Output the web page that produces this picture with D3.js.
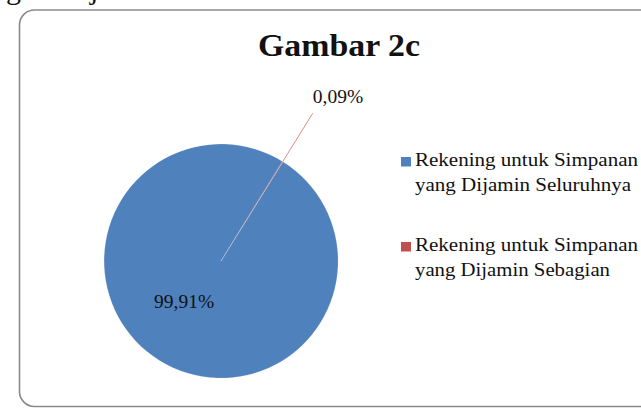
<!DOCTYPE html>
<html>
<head>
<meta charset="utf-8">
<script src="https://cdn.jsdelivr.net/npm/d3@7"></script>
<style>
  html, body { margin: 0; padding: 0; background: #fff; }
  svg { display: block; }
  text { font-family: "Liberation Serif", "DejaVu Serif", serif; fill: #111; }
</style>
</head>
<body>
<svg id="chart" width="641" height="408"></svg>
<script>
const title = "Gambar 2c";
const categories = [
  ["Rekening untuk Simpanan", "yang Dijamin Seluruhnya"],
  ["Rekening untuk Simpanan", "yang Dijamin Sebagian"]
];
const values = [99.91, 0.09];
const valueLabels = ["99,91%", "0,09%"];
const colors = ["#4F81BD", "#C0504D"];

const svg = d3.select("#chart");

// descenders of a text line above (cropped, as in the reference)
svg.append("text").attr("x", 6).attr("y", -1).attr("font-size", 30).text("g");
svg.append("text").attr("x", 90).attr("y", -1).attr("font-size", 30).text("j");

// chart frame
svg.append("rect")
  .attr("x", 19.5).attr("y", 10).attr("width", 640).attr("height", 396.5)
  .attr("rx", 15).attr("ry", 15)
  .attr("fill", "#fff").attr("stroke", "#8a8a8a").attr("stroke-width", 1.6);

// title
svg.append("text")
  .attr("x", 258).attr("y", 56)
  .attr("font-size", 32).attr("font-weight", "bold")
  .attr("textLength", 162).attr("lengthAdjust", "spacingAndGlyphs")
  .text(title);

// pie
const cx = 221, cy = 261, r = 117;
const start = 32 * Math.PI / 180;
const pie = d3.pie().sort(null).startAngle(start).endAngle(start + 2 * Math.PI);
const arcs = pie(values);
const arc = d3.arc().innerRadius(0).outerRadius(r);
const g = svg.append("g").attr("transform", `translate(${cx},${cy})`);
g.selectAll("path").data(arcs).join("path")
  .attr("d", arc)
  .attr("fill", (d, i) => colors[i])
  .attr("stroke", "#fff").attr("stroke-width", 0.5).attr("stroke-opacity", 0.3);

// leader line for small slice
const small = arcs[1];
const mid = (small.startAngle + small.endAngle) / 2;
const r2 = 174;
g.append("line")
  .attr("x1", Math.sin(mid) * r).attr("y1", -Math.cos(mid) * r)
  .attr("x2", Math.sin(mid) * r2).attr("y2", -Math.cos(mid) * r2)
  .attr("stroke", "#e08a88").attr("stroke-width", 1);

// value labels
svg.append("text")
  .attr("x", Math.sin(mid) * r2 + cx).attr("y", -Math.cos(mid) * r2 + cy - 10)
  .attr("font-size", 19.5)
  .text(valueLabels[1]);
svg.append("text")
  .attr("x", 154).attr("y", 307.5)
  .attr("font-size", 19.5)
  .text(valueLabels[0]);

// legend
const legendY = [157, 242];
const lineLens = [[223, 216], [223, 195]];
categories.forEach((lines, i) => {
  svg.append("rect")
    .attr("x", 401).attr("y", legendY[i]).attr("width", 10).attr("height", 9.5)
    .attr("fill", colors[i]);
  lines.forEach((t, j) => {
    svg.append("text")
      .attr("x", 415).attr("y", legendY[i] + 8.5 + j * 25)
      .attr("font-size", 19)
      .attr("textLength", lineLens[i][j]).attr("lengthAdjust", "spacingAndGlyphs")
      .text(t);
  });
});
</script>
</body>
</html>
